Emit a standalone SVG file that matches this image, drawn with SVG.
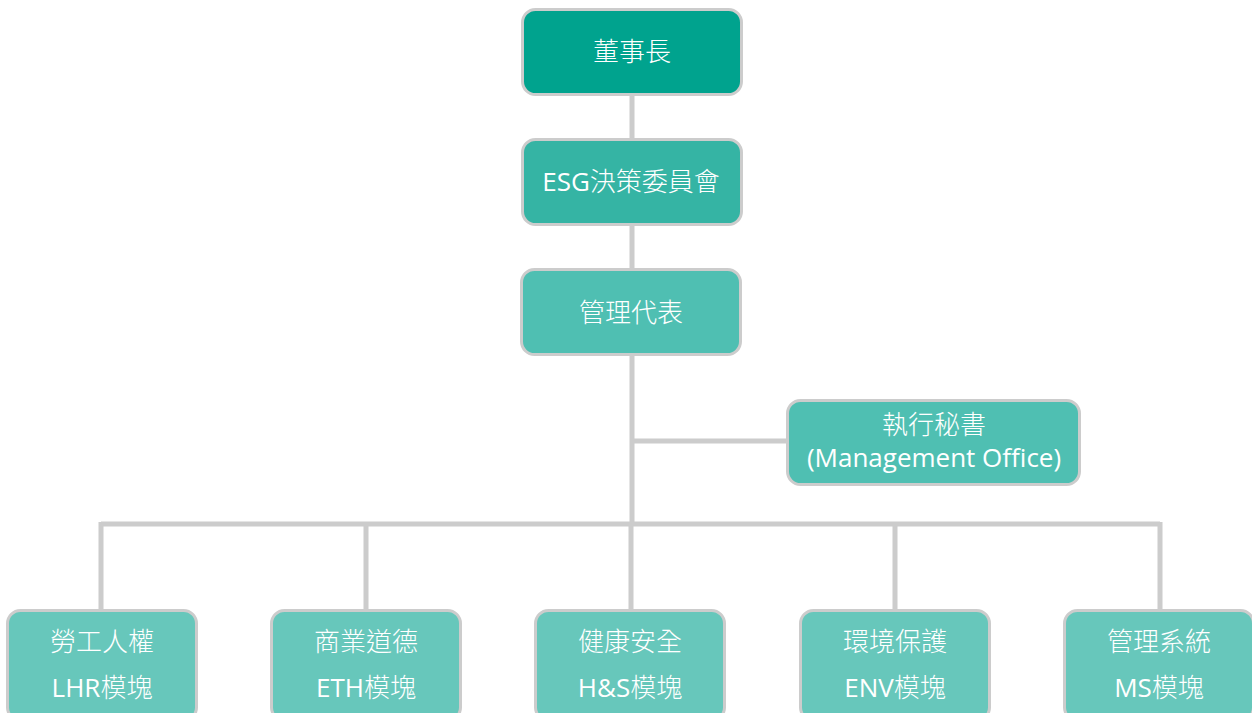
<svg xmlns="http://www.w3.org/2000/svg" width="1252" height="713" viewBox="0 0 1252 713">
<style>
.box{stroke:#cccccc;stroke-width:3}
.t{font-family:"Open Sans","Noto Sans CJK TC",sans-serif;font-size:26px;font-weight:300;fill:#ffffff;text-anchor:middle}
.l{font-weight:400}
.c{stroke:#cccccc;stroke-width:5;fill:none}
</style>
<rect width="1252" height="713" fill="#ffffff"/>
<g id="connectors">
<path class="c" d="M632 94V524M632 441H788M101 524H1160M101 522V611M366 522V611M631 522V611M895 522V611M1160 522V611"/>
</g>
<g id="chairman"><rect class="box" x="522.500" y="9.500" width="219" height="85" rx="13" fill="#00a38e"/><text class="t" x="632" y="61">董事長</text></g>
<g id="esg"><rect class="box" x="522.500" y="139.500" width="219" height="85" rx="13" fill="#35b4a4"/><text class="t" x="631" y="191"><tspan class="l">ESG</tspan>決策委員會</text></g>
<g id="mgmtrep"><rect class="box" x="521.500" y="269.500" width="219" height="85" rx="13" fill="#4fbfb2"/><text class="t" x="631" y="322">管理代表</text></g>
<g id="secretary"><rect class="box" x="787.500" y="400.500" width="292" height="84" rx="13" fill="#4fbfb2"/><text class="t" x="934" y="434">執行秘書</text><text class="t l" x="934" y="467">(Management Office)</text></g>
<g id="lhr"><rect class="box" x="7.500" y="610.500" width="189" height="110" rx="13" fill="#67c7bb"/><text class="t" x="102" y="651">勞工人權</text><text class="t" x="102" y="697"><tspan class="l">LHR</tspan>模塊</text></g>
<g id="eth"><rect class="box" x="271.500" y="610.500" width="189" height="110" rx="13" fill="#67c7bb"/><text class="t" x="366" y="651">商業道德</text><text class="t" x="366" y="697"><tspan class="l">ETH</tspan>模塊</text></g>
<g id="hs"><rect class="box" x="535.500" y="610.500" width="189" height="110" rx="13" fill="#67c7bb"/><text class="t" x="630" y="651">健康安全</text><text class="t" x="630" y="697"><tspan class="l">H&amp;S</tspan>模塊</text></g>
<g id="env"><rect class="box" x="800.500" y="610.500" width="189" height="110" rx="13" fill="#67c7bb"/><text class="t" x="895" y="651">環境保護</text><text class="t" x="895" y="697"><tspan class="l">ENV</tspan>模塊</text></g>
<g id="ms"><rect class="box" x="1064.500" y="610.500" width="189" height="110" rx="13" fill="#67c7bb"/><text class="t" x="1159" y="651">管理系統</text><text class="t" x="1159" y="697"><tspan class="l">MS</tspan>模塊</text></g>
</svg>
